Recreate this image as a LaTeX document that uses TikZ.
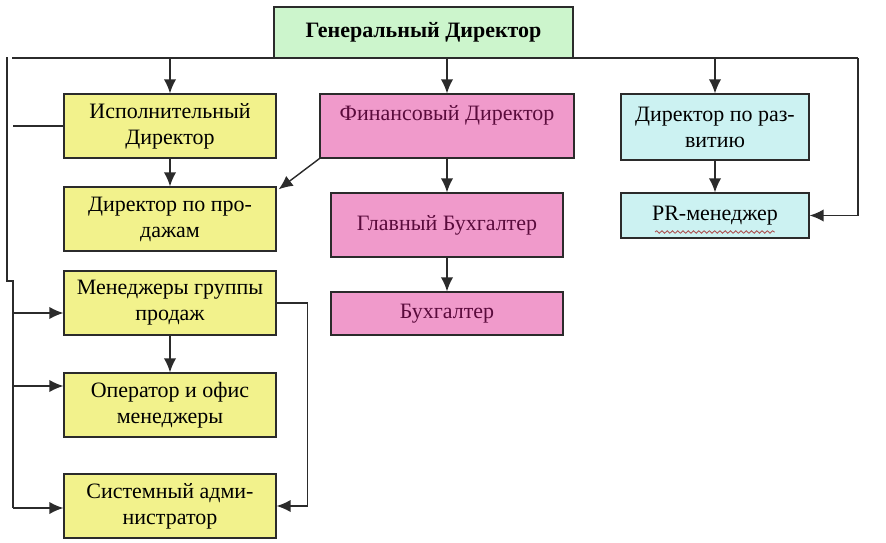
\documentclass[tikz,border=0pt]{standalone}
\usepackage{fontspec}
\setmainfont{Liberation Serif}
\usepackage{tikz}
\usetikzlibrary{arrows.meta,positioning,decorations.pathmorphing}
\usepackage{xcolor}
\definecolor{Frame}{HTML}{2B2B2B}
\definecolor{Mint}{HTML}{CCF5CC}
\definecolor{Lemon}{HTML}{F2F28C}
\definecolor{Rose}{HTML}{F09ACB}
\definecolor{Aqua}{HTML}{CCF2F2}
\definecolor{Plum}{HTML}{5A0B3C}

\begin{document}
\begin{tikzpicture}[x=0.02cm,y=-0.02cm,>={Latex[length=8pt,width=7pt]},
    box/.style={draw=Frame,line width=0.7pt,align=center,font=\fontsize{12.5}{14.8}\selectfont,inner sep=2pt},
    line/.style={draw=Frame,line width=0.8pt}]
    \useasboundingbox[fill=white] (0,0) rectangle (886,542);
    % top level
    \node[box,fill=Mint,minimum width=5.98cm,minimum height=1.02cm,font=\bfseries\fontsize{12.5}{14.8}\selectfont] (gen) at (423.5,32.5) {Генеральный Директор};
    % left column
    \node[box,fill=Lemon,minimum width=4.24cm,minimum height=1.28cm] (isp) at (170,126) {Исполнительный\\Директор};
    \node[box,fill=Lemon,minimum width=4.24cm,minimum height=1.28cm] (prod) at (170,219) {Директор по про-\\дажам};
    \node[box,fill=Lemon,minimum width=4.24cm,minimum height=1.28cm] (mgr) at (170,303) {Менеджеры группы\\продаж};
    \node[box,fill=Lemon,minimum width=4.24cm,minimum height=1.28cm] (oper) at (170,405) {Оператор и офис\\менеджеры};
    \node[box,fill=Lemon,minimum width=4.24cm,minimum height=1.28cm] (sys) at (170,506) {Системный адми-\\нистратор};
    % middle column
    \node[box,fill=Rose,text=Plum,minimum width=5.08cm,minimum height=1.28cm] (fin) at (447,126) {Финансовый Директор\\\mbox{}};
    \node[box,fill=Rose,text=Plum,minimum width=4.64cm,minimum height=1.28cm] (glav) at (447,225) {Главный Бухгалтер};
    \node[box,fill=Rose,text=Plum,minimum width=4.64cm,minimum height=0.86cm] (buh) at (447,313.5) {Бухгалтер};
    % right column
    \node[box,fill=Aqua,minimum width=3.76cm,minimum height=1.32cm] (razv) at (715,127) {Директор по раз-\\витию};
    \node[box,fill=Aqua,minimum width=3.76cm,minimum height=0.9cm] (pr) at (715,215.5) {PR-менеджер};
    \draw[red!35!gray,line width=0.5pt,decorate,decoration={snake,amplitude=0.7pt,segment length=3pt}] ([xshift=-1.2cm,yshift=-0.33cm]pr.center) -- ([xshift=1.2cm,yshift=-0.33cm]pr.center);

    % bus lines
    \coordinate (bl) at (12,58);
    \coordinate (br) at (858,58);
    \coordinate (lt) at (7,57);
    \coordinate (lj) at (7,281);
    \coordinate (lb) at (13,508);
    \draw[line] (bl) -- (br);
    \draw[line] (lt) -- (lj) -- (lj -| lb) -- (lb);
    \draw[->,line] (isp.north |- bl) -- (isp.north);
    \draw[->,line] (fin.north |- bl) -- (fin.north);
    \draw[->,line] (razv.north |- bl) -- (razv.north);
    \draw[->,line] (br) |- (pr.east);

    % left side feeds
    \coordinate (l0) at (13,126);
    \coordinate (l1) at (13,313);
    \coordinate (l2) at (13,386);
    \draw[line] (l0) -- (isp.west);
    \draw[->,line] (l1) -- (l1 -| mgr.west);
    \draw[->,line] (l2) -- (l2 -| oper.west);
    \draw[->,line] (lb) -- (lb -| sys.west);

    % inner links
    \draw[->,line] (isp) -- (prod);
    \draw[->,line] (fin.south west) -- ([shift={(2,3)}]prod.north east);
    \draw[->,line] (fin) -- (glav);
    \draw[->,line] (glav) -- (buh);
    \draw[->,line] (razv) -- (pr);
    \draw[->,line] (mgr) -- (oper);
    \draw[->,line] (mgr.east) -- ++(31,0) |- (sys.east);
\end{tikzpicture}
\end{document}
